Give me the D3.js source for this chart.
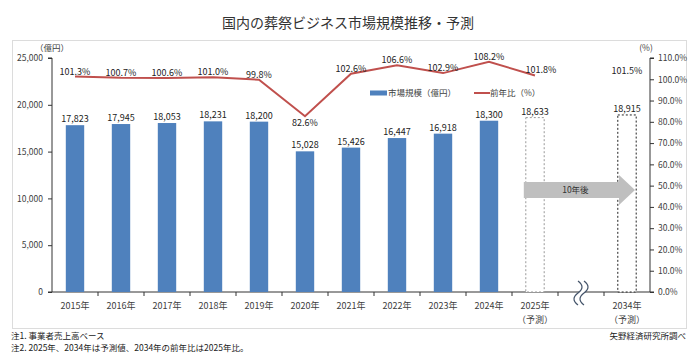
<!DOCTYPE html>
<html><head><meta charset="utf-8">
<script src="https://cdn.jsdelivr.net/npm/d3@7"></script>
<style>
html,body{margin:0;padding:0;background:#fff;}
svg{display:block;font-family:"Noto Sans CJK JP","Noto Sans",sans-serif;}
</style></head>
<body>
<svg id="chart" width="700" height="358"></svg>
<script>
const title = "国内の葬祭ビジネス市場規模推移・予測";
const categories = ["2015年","2016年","2017年","2018年","2019年","2020年","2021年","2022年","2023年","2024年","2025年","gap","2034年"];
const years = ["2015年","2016年","2017年","2018年","2019年","2020年","2021年","2022年","2023年","2024年","2025年","2034年"];
const marketSize = [17823,17945,18053,18231,18200,15028,15426,16447,16918,18300,18633,18915];
const yoyRatio = [101.3,100.7,100.6,101.0,99.8,82.6,102.6,106.6,102.9,108.2,101.8,101.5];
const forecastYears = ["2025年","2034年"];
const lineYears = ["2015年","2016年","2017年","2018年","2019年","2020年","2021年","2022年","2023年","2024年","2025年"];
const leftTicks = [0,5000,10000,15000,20000,25000];
const rightTicks = [0,10,20,30,40,50,60,70,80,90,100,110];
const notes = ["注1. 事業者売上高ベース","注2. 2025年、2034年は予測値、2034年の前年比は2025年比。"];
const source = "矢野経済研究所調べ";

const svg = d3.select("#chart");
const L = 52, R = 650, T = 58, B = 292;
const x = d3.scaleBand().domain(categories).range([L, R]).paddingInner(0.6).paddingOuter(0.3);
const y = d3.scaleLinear().domain([0, 25000]).range([B, T]);
const y2 = d3.scaleLinear().domain([0, 110]).range([B, T]);
const cx = c => x(c) + x.bandwidth() / 2;
const textCol = "#404040";
const barCol = "#4f81bd";
const lineCol = "#c0504d";

// frame
svg.append("rect").attr("x", 12.5).attr("y", 40.5).attr("width", 674).attr("height", 288)
  .attr("fill", "none").attr("stroke", "#dcdcdc").attr("stroke-width", 1);

// title
svg.append("text").attr("x", 348).attr("y", 28).attr("text-anchor", "middle")
  .attr("font-size", 14).attr("fill", "#333").text(title);

// left axis
const gl = svg.append("g").attr("transform", `translate(${L},0)`)
  .call(d3.axisLeft(y).tickValues(leftTicks).tickFormat(d3.format(",")).tickSize(4).tickPadding(5));
// right axis
const gr = svg.append("g").attr("transform", `translate(${R},0)`)
  .call(d3.axisRight(y2).tickValues(rightTicks).tickFormat(d => d.toFixed(1) + "%").tickSize(4).tickPadding(4));
// bottom axis
const boundaries = categories.map(c => x(c) - x.step() * x.paddingInner() / 2).slice(1);
const gb = svg.append("g").attr("transform", `translate(0,${B})`);
gb.append("line").attr("x1", L).attr("x2", R).attr("stroke", "#333");
gb.selectAll("line.tk").data(boundaries).join("line").attr("class", "tk")
  .attr("x1", d => d).attr("x2", d => d).attr("y1", 0).attr("y2", 4).attr("stroke", "#333");
[gl, gr].forEach(g => {
  g.selectAll("path.domain").attr("stroke", "#333");
  g.selectAll(".tick line").attr("stroke", "#333");
  g.selectAll(".tick text").attr("fill", textCol).attr("font-size", 8.5).attr("font-family", "'Noto Sans CJK JP',sans-serif");
});
gr.select("path.domain").attr("d", `M4,${B}H0V${T}H4`);
gl.select("path.domain").attr("d", `M-4,${B}H0V${T}H-4`);

// axis unit labels
svg.append("text").attr("x", 52).attr("y", 51).attr("text-anchor", "middle").attr("font-size", 8.5).attr("fill", textCol).text("（億円）");
svg.append("text").attr("x", 646).attr("y", 51).attr("text-anchor", "middle").attr("font-size", 8.5).attr("fill", textCol).text("(%)");

// year labels
svg.append("g").selectAll("text").data(years).join("text")
  .attr("x", d => cx(d)).attr("y", 309).attr("text-anchor", "middle")
  .attr("font-size", 9).attr("fill", textCol).text(d => d);
svg.append("g").selectAll("text").data(forecastYears).join("text")
  .attr("x", d => cx(d)).attr("y", 323).attr("text-anchor", "middle")
  .attr("font-size", 9).attr("fill", textCol).text("（予測）");

// bars
const barData = years.map((yr, i) => ({yr, v: marketSize[i], f: forecastYears.includes(yr)}));
svg.append("g").selectAll("rect").data(barData).join("rect")
  .attr("x", d => x(d.yr)).attr("width", x.bandwidth())
  .attr("y", d => y(d.v)).attr("height", d => B - y(d.v))
  .attr("fill", d => d.f ? "#fff" : barCol)
  .attr("stroke", d => d.f ? (d.yr === "2034年" ? "#222" : "#999") : "none")
  .attr("stroke-dasharray", d => d.f ? "2,2" : null)
  .attr("stroke-width", 1);
svg.append("g").selectAll("text").data(barData).join("text")
  .attr("x", d => cx(d.yr)).attr("y", d => y(d.v) - 3).attr("text-anchor", "middle")
  .attr("font-size", 9).attr("fill", "#222").text(d => d3.format(",")(d.v));

// arrow "10年後"
const ax0 = x("2025年") - 2, ax1 = cx("2034年") + 8, headX = ax1 - 16;
const ay = 190;
svg.append("path")
  .attr("d", `M${ax0},${ay-8}H${headX}V${ay-15}L${ax1},${ay}L${headX},${ay+15}V${ay+8}H${ax0}Z`)
  .attr("fill", "#bfbfbf");
svg.append("text").attr("x", (ax0 + headX) / 2 + 4).attr("y", ay + 3).attr("text-anchor", "middle")
  .attr("font-size", 8.5).attr("fill", "#333").text("10年後");

// line
const lineData = lineYears.map(yr => ({yr, v: yoyRatio[years.indexOf(yr)]}));
svg.append("path").datum(lineData)
  .attr("d", d3.line().x(d => cx(d.yr)).y(d => y2(d.v)))
  .attr("fill", "none").attr("stroke", lineCol).attr("stroke-width", 2);
const lblData = years.map((yr, i) => ({yr, v: yoyRatio[i]}));
svg.append("g").selectAll("text").data(lblData).join("text")
  .attr("x", d => cx(d.yr) + (d.yr === "2025年" ? 6 : 0))
  .attr("y", d => d.v < 90 ? y2(d.v) + 10 : y2(d.v) - 2)
  .attr("text-anchor", "middle").attr("font-size", 9).attr("fill", "#222")
  .text(d => d.v.toFixed(1) + "%");

// break mark
const gx = cx("gap");
const sq = (dx) => `M${gx+dx},${B-11} Q${gx+dx+8},${B-5} ${gx+dx},${B+1} Q${gx+dx-8},${B+7} ${gx+dx},${B+13}`;
svg.append("path").attr("d", `${sq(-3)} L${gx+3},${B+13} Q${gx-5},${B+7} ${gx+3},${B+1} Q${gx+11},${B-5} ${gx+3},${B-11}Z`)
  .attr("fill", "#fff").attr("stroke", "none");
[-3, 3].forEach(dx => svg.append("path").attr("d", sq(dx)).attr("fill", "none").attr("stroke", "#44546a").attr("stroke-width", 1.2));

// legend
const lg = svg.append("g").attr("transform", "translate(370,93)");
lg.append("rect").attr("x", 0).attr("y", -2.5).attr("width", 17).attr("height", 5).attr("fill", barCol);
lg.append("text").attr("x", 18).attr("y", 3).attr("font-size", 8.5).attr("fill", textCol).text("市場規模（億円）");
lg.append("line").attr("x1", 104).attr("x2", 120).attr("stroke", lineCol).attr("stroke-width", 2);
lg.append("text").attr("x", 120).attr("y", 3).attr("font-size", 8.5).attr("fill", textCol).text("前年比（%）");

// notes
svg.append("g").selectAll("text").data(notes).join("text")
  .attr("x", 11).attr("y", (d, i) => 339 + i * 12).attr("font-size", 8.5).attr("fill", "#222").text(d => d);
svg.append("text").attr("x", 686).attr("y", 339).attr("text-anchor", "end").attr("font-size", 8.5).attr("fill", "#222").text(source);
</script>
</body></html>
